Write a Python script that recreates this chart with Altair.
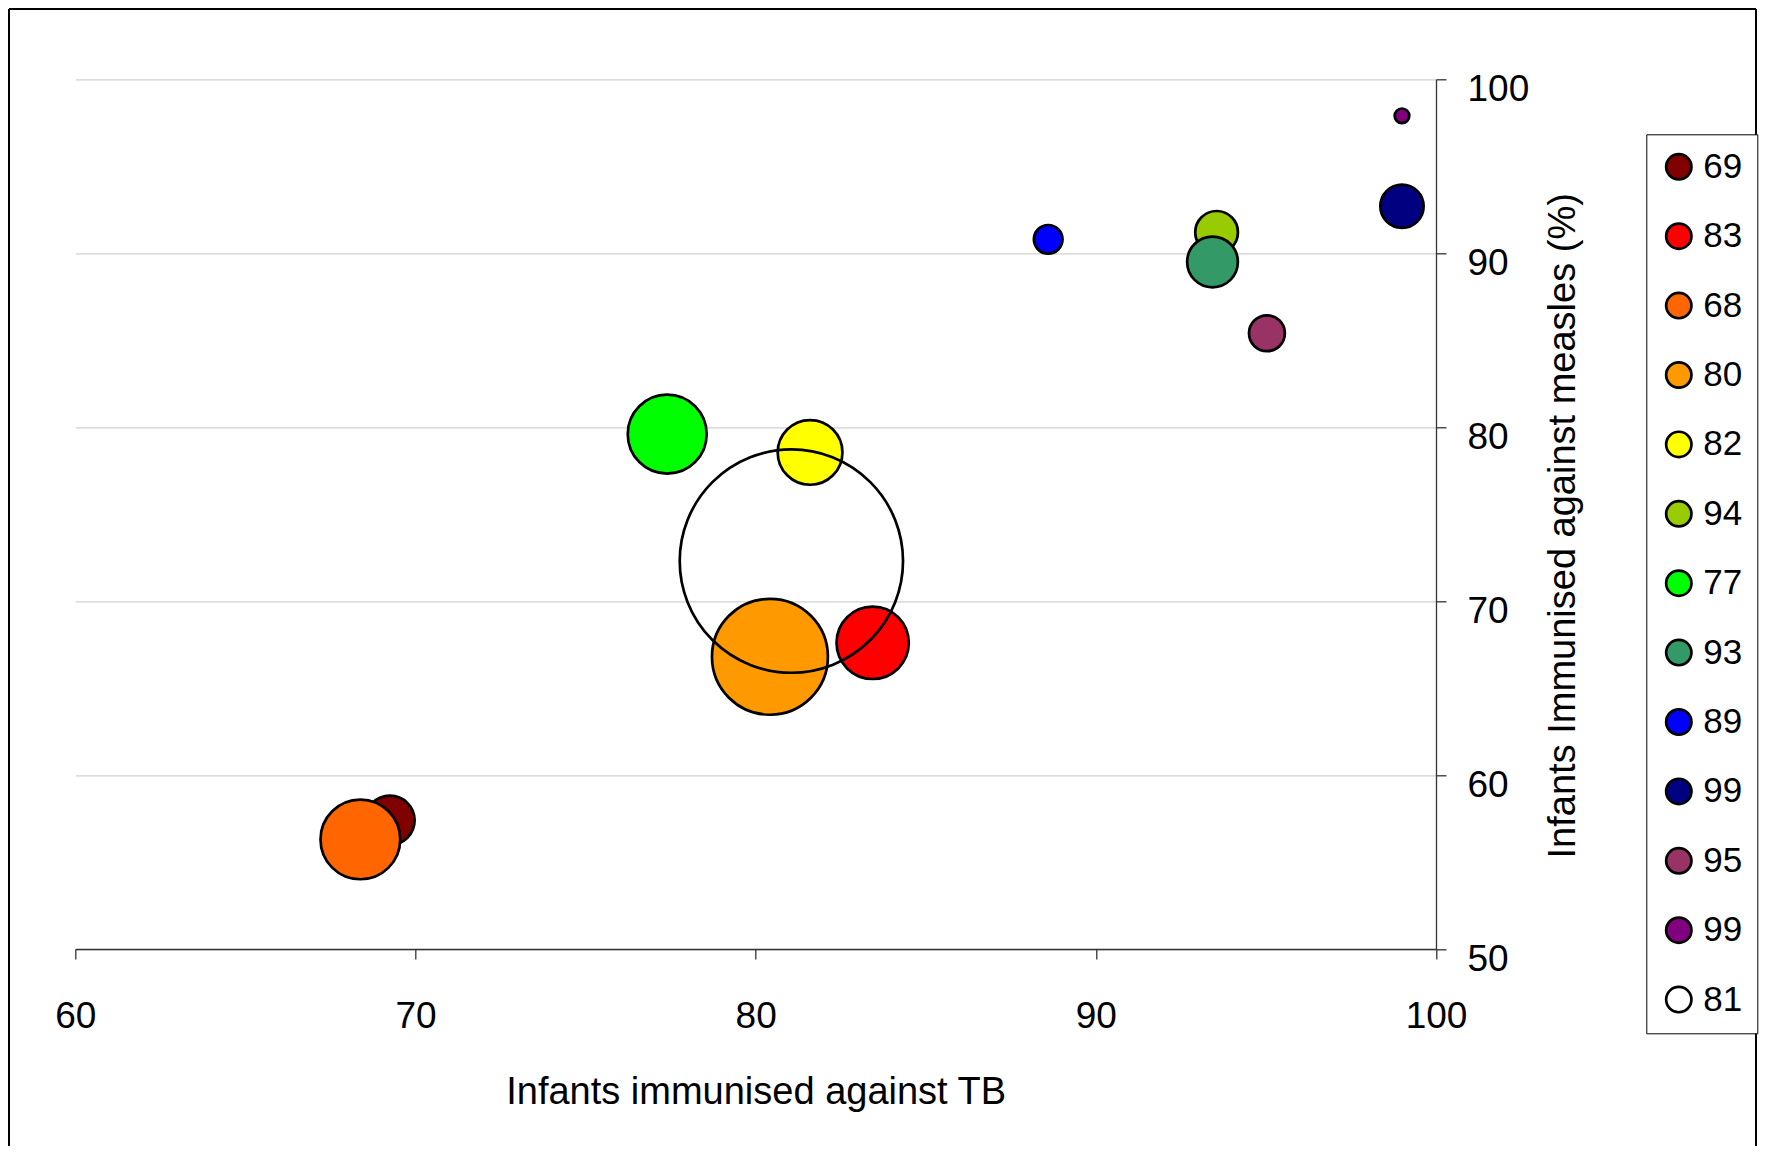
import altair as alt
import pandas as pd

# ---- data ----
labels = ["69", "83", "68", "80", "82", "94", "77", "93", "89", "99", "95", "99", "81"]
tb = [69.25, 83.44, 68.38, 80.42, 81.6, 93.55, 77.4, 93.43, 88.6, 99.0, 95.03, 99.0, 81.05]
measles = [57.4, 67.6, 56.3, 66.8, 78.55, 91.2, 79.6, 89.5, 90.8, 92.7, 85.4, 97.9, 72.3]
bubble = [4.88, 10.48, 12.74, 26.94, 8.40, 3.66, 12.48, 5.16, 1.65, 3.76, 2.58, 0.43, 100]
colors = ["#800000", "#FF0000", "#FF6600", "#FF9900", "#FFFF00", "#99CC00", "#00FF00",
          "#339966", "#0000FF", "#000080", "#993366", "#800080", "transparent"]
x_ticks = [60, 70, 80, 90, 100]
y_ticks = [50, 60, 70, 80, 90, 100]

keys = [f"{i:02d}_{l}" for i, l in enumerate(labels)]
df = pd.DataFrame({"key": keys, "tb": tb, "measles": measles, "bubble": bubble})

FONT = "Liberation Sans"
W, H = 1360.7, 869.7
PAD_L, PAD_T = 67.3, 71.3
TOTAL_W, TOTAL_H = 1751, 1138

# Vega circle symbols: radius = sqrt(size) / 2
MAX_R = 111.65
MAX_SIZE = (2 * MAX_R) ** 2

points = alt.Chart(df).mark_circle(opacity=1, stroke="black", strokeWidth=2.7).encode(
    x=alt.X("tb:Q",
            scale=alt.Scale(domain=[60, 100], nice=False, zero=False),
            axis=alt.Axis(values=x_ticks, title="Infants immunised against TB", grid=False,
                          tickSize=10, labelPadding=39, labelFontSize=37, labelFlush=False,
                          titleFontSize=38, titleY=124, titleBaseline="top",
                          titleFontWeight="normal")),
    y=alt.Y("measles:Q",
            scale=alt.Scale(domain=[50, 100], nice=False, zero=False),
            axis=alt.Axis(orient="right", values=y_ticks,
                          title="Infants Immunised against measles (%)", grid=True,
                          tickSize=10, labelPadding=21, labelFontSize=37, labelOffset=10,
                          labelFlush=False, labelAlign="left", titleFontSize=38,
                          titleAngle=270, titleX=127, titleY=446, titleBaseline="middle",
                          titleAlign="center", titleFontWeight="normal")),
    color=alt.Color("key:N", sort=keys,
                    scale=alt.Scale(domain=keys, range=colors),
                    legend=alt.Legend(title=None, orient="none", legendX=1571, legendY=55,
                                      labelExpr="slice(datum.label, 3)", labelFontSize=35,
                                      symbolType="circle", symbolSize=640,
                                      symbolStrokeWidth=2.7, symbolStrokeColor="black",
                                      padding=15, rowPadding=32.4, labelOffset=7,
                                      strokeColor="black", fillColor="white")),
    size=alt.Size("bubble:Q", scale=alt.Scale(domain=[0, 100], range=[0, MAX_SIZE], zero=True),
                  legend=None),
)

# outer chart frame (top, left and right edges; bottom edge lies below the picture)
FR_L, FR_R, FR_T, FR_B = -66.3, TOTAL_W - PAD_L - 3, -70.3, 1070
frame_df = pd.DataFrame({"f": [0]})
frame_top = alt.Chart(frame_df).mark_rule(stroke="black", strokeWidth=2).encode(
    x=alt.value(FR_L), x2=alt.value(FR_R), y=alt.value(FR_T))
frame_left = alt.Chart(frame_df).mark_rule(stroke="black", strokeWidth=2).encode(
    x=alt.value(FR_L), y=alt.value(FR_T), y2=alt.value(FR_B))
frame_right = alt.Chart(frame_df).mark_rule(stroke="black", strokeWidth=2).encode(
    x=alt.value(FR_R), y=alt.value(FR_T), y2=alt.value(FR_B))

chart = alt.layer(points, frame_top, frame_left, frame_right).properties(
    width=W, height=H,
    autosize=alt.AutoSizeParams(type="none"),
    padding={"left": PAD_L, "top": PAD_T, "right": TOTAL_W - PAD_L - W,
             "bottom": TOTAL_H - PAD_T - H},
).configure_view(strokeWidth=0).configure_axis(
    labelFont=FONT, titleFont=FONT, labelColor="black", titleColor="black",
    gridColor="#D0D0D0", gridWidth=1.2, domainColor="#333333", tickColor="#333333",
    domainWidth=1.3, tickWidth=1.3,
).configure_legend(labelFont=FONT, labelColor="black", labelLimit=0)

chart.save("out.html", embed_options={"renderer": "svg", "actions": False})
